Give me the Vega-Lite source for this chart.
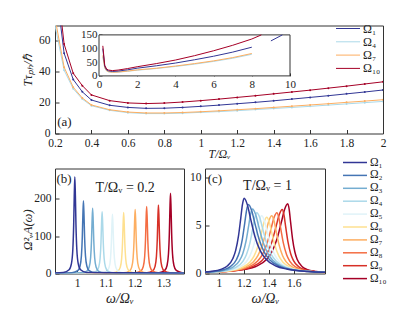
{
"$schema":"https://vega.github.io/schema/vega-lite/v6.json",
"padding":{"left":20,"top":21.5,"right":4,"bottom":4},
"config":{
 "font":"Liberation Serif",
 "view":{"stroke":"#333333","strokeWidth":1},
 "axis":{"grid":false,"domain":false,"tickColor":"#333333","tickSize":-4,"labelPadding":7,"labelFontSize":11.5,"labelColor":"#222222","labelFont":"Liberation Serif","titleFont":"Liberation Serif","titleFontWeight":"normal","titleFontStyle":"italic","titleColor":"#222222","titleFontSize":13,"labelFlush":false,"labelOverlap":false},
 "legend":{"labelFont":"Liberation Serif","labelColor":"#222222","labelFontSize":12,"symbolType":"M0,0H4.8","symbolSize":100,"labelOffset":21,"title":null},
 "text":{"font":"Liberation Serif","color":"#222222"}
},
"datasets":{
 "A":[
  {"T":0.2,"Ω₁":100,"Ω₄":70,"Ω₇":75,"Ω₁₀":110},
  {"T":0.25,"Ω₁":52,"Ω₄":41,"Ω₇":43,"Ω₁₀":58},
  {"T":0.3,"Ω₁":35,"Ω₄":29,"Ω₇":30,"Ω₁₀":39},
  {"T":0.35,"Ω₁":27,"Ω₄":22.3,"Ω₇":23,"Ω₁₀":31},
  {"T":0.4,"Ω₁":21.7,"Ω₄":18,"Ω₇":18.5,"Ω₁₀":25},
  {"T":0.5,"Ω₁":18.3,"Ω₄":15,"Ω₇":15.4,"Ω₁₀":21.3},
  {"T":0.6,"Ω₁":16.9,"Ω₄":13.5,"Ω₇":13.9,"Ω₁₀":19.8},
  {"T":0.7,"Ω₁":16.3,"Ω₄":12.9,"Ω₇":13.3,"Ω₁₀":19.4},
  {"T":0.8,"Ω₁":16.4,"Ω₄":12.9,"Ω₇":13.3,"Ω₁₀":19.7},
  {"T":0.9,"Ω₁":16.9,"Ω₄":13.2,"Ω₇":13.6,"Ω₁₀":20.4},
  {"T":1.0,"Ω₁":17.6,"Ω₄":13.7,"Ω₇":14.1,"Ω₁₀":21.3},
  {"T":1.1,"Ω₁":18.4,"Ω₄":14.2,"Ω₇":14.7,"Ω₁₀":22.3},
  {"T":1.2,"Ω₁":19.3,"Ω₄":14.8,"Ω₇":15.4,"Ω₁₀":23.4},
  {"T":1.3,"Ω₁":20.2,"Ω₄":15.5,"Ω₇":16.1,"Ω₁₀":24.5},
  {"T":1.4,"Ω₁":21.2,"Ω₄":16.2,"Ω₇":16.9,"Ω₁₀":25.7},
  {"T":1.5,"Ω₁":22.3,"Ω₄":16.9,"Ω₇":17.7,"Ω₁₀":26.9},
  {"T":1.6,"Ω₁":23.4,"Ω₄":17.6,"Ω₇":18.5,"Ω₁₀":28.1},
  {"T":1.7,"Ω₁":24.5,"Ω₄":18.4,"Ω₇":19.3,"Ω₁₀":29.4},
  {"T":1.8,"Ω₁":25.7,"Ω₄":19.2,"Ω₇":20.2,"Ω₁₀":30.7},
  {"T":1.9,"Ω₁":26.9,"Ω₄":20.0,"Ω₇":21.0,"Ω₁₀":32.1},
  {"T":2.0,"Ω₁":28.2,"Ω₄":20.8,"Ω₇":21.9,"Ω₁₀":33.5}
 ],
 "I":[
  {"T":0.2,"Ω₁":100,"Ω₄":70,"Ω₇":75,"Ω₁₀":110},
  {"T":0.3,"Ω₁":35,"Ω₄":29,"Ω₇":30,"Ω₁₀":39},
  {"T":0.4,"Ω₁":21.7,"Ω₄":18,"Ω₇":18.5,"Ω₁₀":25},
  {"T":0.5,"Ω₁":18.3,"Ω₄":15,"Ω₇":15.4,"Ω₁₀":21.3},
  {"T":0.7,"Ω₁":16.3,"Ω₄":12.9,"Ω₇":13.3,"Ω₁₀":19.4},
  {"T":1,"Ω₁":17.6,"Ω₄":13.7,"Ω₇":14.1,"Ω₁₀":21.3},
  {"T":1.5,"Ω₁":22.3,"Ω₄":16.9,"Ω₇":17.7,"Ω₁₀":26.9},
  {"T":2,"Ω₁":28.2,"Ω₄":20.8,"Ω₇":21.9,"Ω₁₀":33.5},
  {"T":3,"Ω₁":37,"Ω₄":27,"Ω₇":28,"Ω₁₀":45},
  {"T":4,"Ω₁":47,"Ω₄":34.5,"Ω₇":36,"Ω₁₀":58},
  {"T":5,"Ω₁":59,"Ω₄":43,"Ω₇":45,"Ω₁₀":74},
  {"T":6,"Ω₁":72,"Ω₄":53,"Ω₇":55,"Ω₁₀":92},
  {"T":7,"Ω₁":87,"Ω₄":64.5,"Ω₇":67,"Ω₁₀":112},
  {"T":8,"Ω₁":105,"Ω₄":79,"Ω₇":82,"Ω₁₀":135},
  {"T":8.5,"Ω₁₀":150},
  {"T":9,"Ω₁":128,"Ω₄":98,"Ω₇":102},
  {"T":9.6,"Ω₁":150},
  {"T":10,"Ω₄":123,"Ω₇":128}
 ],
 "B":[
  {"s":"Ω₁₀","w":0.9,"a":0.4},{"s":"Ω₁₀","w":1.285,"a":2.1},{"s":"Ω₁₀","w":1.305,"a":8.1},{"s":"Ω₁₀","w":1.313,"a":21.4},{"s":"Ω₁₀","w":1.318,"a":52.6},{"s":"Ω₁₀","w":1.321,"a":107},{"s":"Ω₁₀","w":1.323,"a":171},{"s":"Ω₁₀","w":1.325,"a":214},{"s":"Ω₁₀","w":1.327,"a":171},{"s":"Ω₁₀","w":1.329,"a":107},{"s":"Ω₁₀","w":1.332,"a":52.6},{"s":"Ω₁₀","w":1.337,"a":21.4},{"s":"Ω₁₀","w":1.345,"a":8.1},{"s":"Ω₁₀","w":1.365,"a":2.1},{"s":"Ω₁₀","w":1.4,"a":0.4},
  {"s":"Ω₉","w":0.9,"a":0.4},{"s":"Ω₉","w":1.243,"a":1.8},{"s":"Ω₉","w":1.263,"a":7.0},{"s":"Ω₉","w":1.271,"a":18.3},{"s":"Ω₉","w":1.276,"a":45.0},{"s":"Ω₉","w":1.279,"a":91.5},{"s":"Ω₉","w":1.281,"a":146},{"s":"Ω₉","w":1.283,"a":183},{"s":"Ω₉","w":1.285,"a":146},{"s":"Ω₉","w":1.287,"a":91.5},{"s":"Ω₉","w":1.29,"a":45.0},{"s":"Ω₉","w":1.295,"a":18.3},{"s":"Ω₉","w":1.303,"a":7.0},{"s":"Ω₉","w":1.323,"a":1.8},{"s":"Ω₉","w":1.4,"a":0.4},
  {"s":"Ω₈","w":0.9,"a":0.4},{"s":"Ω₈","w":1.202,"a":1.8},{"s":"Ω₈","w":1.222,"a":6.8},{"s":"Ω₈","w":1.23,"a":17.9},{"s":"Ω₈","w":1.235,"a":44.0},{"s":"Ω₈","w":1.238,"a":89.5},{"s":"Ω₈","w":1.24,"a":143},{"s":"Ω₈","w":1.242,"a":179},{"s":"Ω₈","w":1.244,"a":143},{"s":"Ω₈","w":1.246,"a":89.5},{"s":"Ω₈","w":1.249,"a":44.0},{"s":"Ω₈","w":1.254,"a":17.9},{"s":"Ω₈","w":1.262,"a":6.8},{"s":"Ω₈","w":1.282,"a":1.8},{"s":"Ω₈","w":1.4,"a":0.4},
  {"s":"Ω₇","w":0.9,"a":0.4},{"s":"Ω₇","w":1.162,"a":1.7},{"s":"Ω₇","w":1.182,"a":6.5},{"s":"Ω₇","w":1.19,"a":17.1},{"s":"Ω₇","w":1.195,"a":42.1},{"s":"Ω₇","w":1.198,"a":85.5},{"s":"Ω₇","w":1.2,"a":137},{"s":"Ω₇","w":1.202,"a":171},{"s":"Ω₇","w":1.204,"a":137},{"s":"Ω₇","w":1.206,"a":85.5},{"s":"Ω₇","w":1.209,"a":42.1},{"s":"Ω₇","w":1.214,"a":17.1},{"s":"Ω₇","w":1.222,"a":6.5},{"s":"Ω₇","w":1.242,"a":1.7},{"s":"Ω₇","w":1.4,"a":0.4},
  {"s":"Ω₆","w":0.9,"a":0.4},{"s":"Ω₆","w":1.122,"a":1.6},{"s":"Ω₆","w":1.142,"a":6.2},{"s":"Ω₆","w":1.15,"a":16.3},{"s":"Ω₆","w":1.155,"a":40.1},{"s":"Ω₆","w":1.158,"a":81.5},{"s":"Ω₆","w":1.16,"a":130},{"s":"Ω₆","w":1.162,"a":163},{"s":"Ω₆","w":1.164,"a":130},{"s":"Ω₆","w":1.166,"a":81.5},{"s":"Ω₆","w":1.169,"a":40.1},{"s":"Ω₆","w":1.174,"a":16.3},{"s":"Ω₆","w":1.182,"a":6.2},{"s":"Ω₆","w":1.202,"a":1.6},{"s":"Ω₆","w":1.4,"a":0.4},
  {"s":"Ω₅","w":0.9,"a":0.4},{"s":"Ω₅","w":1.083,"a":1.6},{"s":"Ω₅","w":1.103,"a":6.0},{"s":"Ω₅","w":1.111,"a":15.8},{"s":"Ω₅","w":1.116,"a":38.9},{"s":"Ω₅","w":1.119,"a":79},{"s":"Ω₅","w":1.121,"a":126},{"s":"Ω₅","w":1.123,"a":158},{"s":"Ω₅","w":1.125,"a":126},{"s":"Ω₅","w":1.127,"a":79},{"s":"Ω₅","w":1.13,"a":38.9},{"s":"Ω₅","w":1.135,"a":15.8},{"s":"Ω₅","w":1.143,"a":6.0},{"s":"Ω₅","w":1.163,"a":1.6},{"s":"Ω₅","w":1.4,"a":0.4},
  {"s":"Ω₄","w":0.9,"a":0.4},{"s":"Ω₄","w":1.047,"a":1.6},{"s":"Ω₄","w":1.067,"a":6.3},{"s":"Ω₄","w":1.075,"a":16.5},{"s":"Ω₄","w":1.08,"a":40.6},{"s":"Ω₄","w":1.083,"a":82.5},{"s":"Ω₄","w":1.085,"a":132},{"s":"Ω₄","w":1.087,"a":165},{"s":"Ω₄","w":1.089,"a":132},{"s":"Ω₄","w":1.091,"a":82.5},{"s":"Ω₄","w":1.094,"a":40.6},{"s":"Ω₄","w":1.099,"a":16.5},{"s":"Ω₄","w":1.107,"a":6.3},{"s":"Ω₄","w":1.127,"a":1.6},{"s":"Ω₄","w":1.4,"a":0.4},
  {"s":"Ω₃","w":0.9,"a":0.4},{"s":"Ω₃","w":1.014,"a":1.7},{"s":"Ω₃","w":1.034,"a":6.6},{"s":"Ω₃","w":1.042,"a":17.4},{"s":"Ω₃","w":1.047,"a":42.8},{"s":"Ω₃","w":1.05,"a":87},{"s":"Ω₃","w":1.052,"a":139},{"s":"Ω₃","w":1.054,"a":174},{"s":"Ω₃","w":1.056,"a":139},{"s":"Ω₃","w":1.058,"a":87},{"s":"Ω₃","w":1.061,"a":42.8},{"s":"Ω₃","w":1.066,"a":17.4},{"s":"Ω₃","w":1.074,"a":6.6},{"s":"Ω₃","w":1.094,"a":1.7},{"s":"Ω₃","w":1.4,"a":0.4},
  {"s":"Ω₂","w":0.9,"a":0.4},{"s":"Ω₂","w":0.982,"a":1.9},{"s":"Ω₂","w":1.002,"a":7.4},{"s":"Ω₂","w":1.01,"a":19.4},{"s":"Ω₂","w":1.015,"a":47.7},{"s":"Ω₂","w":1.018,"a":97},{"s":"Ω₂","w":1.02,"a":155},{"s":"Ω₂","w":1.022,"a":194},{"s":"Ω₂","w":1.024,"a":155},{"s":"Ω₂","w":1.026,"a":97},{"s":"Ω₂","w":1.029,"a":47.7},{"s":"Ω₂","w":1.034,"a":19.4},{"s":"Ω₂","w":1.042,"a":7.4},{"s":"Ω₂","w":1.062,"a":1.9},{"s":"Ω₂","w":1.4,"a":0.4},
  {"s":"Ω₁","w":0.9,"a":0.4},{"s":"Ω₁","w":0.952,"a":2.6},{"s":"Ω₁","w":0.972,"a":9.8},{"s":"Ω₁","w":0.98,"a":25.8},{"s":"Ω₁","w":0.985,"a":63.5},{"s":"Ω₁","w":0.988,"a":129},{"s":"Ω₁","w":0.99,"a":206},{"s":"Ω₁","w":0.992,"a":258},{"s":"Ω₁","w":0.994,"a":206},{"s":"Ω₁","w":0.996,"a":129},{"s":"Ω₁","w":0.999,"a":63.5},{"s":"Ω₁","w":1.004,"a":25.8},{"s":"Ω₁","w":1.012,"a":9.8},{"s":"Ω₁","w":1.032,"a":2.6},{"s":"Ω₁","w":1.4,"a":0.4}
 ],
 "C":[
  {"s":"Ω₁₀","w":0.89,"a":0.12},{"s":"Ω₁₀","w":1.042,"a":0.2},{"s":"Ω₁₀","w":1.212,"a":0.43},{"s":"Ω₁₀","w":1.297,"a":0.73},{"s":"Ω₁₀","w":1.382,"a":1.45},{"s":"Ω₁₀","w":1.4245,"a":2.23},{"s":"Ω₁₀","w":1.467,"a":3.63},{"s":"Ω₁₀","w":1.501,"a":5.33},{"s":"Ω₁₀","w":1.5265,"a":6.65},{"s":"Ω₁₀","w":1.552,"a":7.25},{"s":"Ω₁₀","w":1.5634,"a":6.65},{"s":"Ω₁₀","w":1.5748,"a":5.33},{"s":"Ω₁₀","w":1.59,"a":3.63},{"s":"Ω₁₀","w":1.609,"a":2.23},{"s":"Ω₁₀","w":1.628,"a":1.45},{"s":"Ω₁₀","w":1.666,"a":0.73},{"s":"Ω₁₀","w":1.704,"a":0.43},{"s":"Ω₁₀","w":1.78,"a":0.2},{"s":"Ω₁₀","w":1.85,"a":0.12},
  {"s":"Ω₉","w":0.89,"a":0.12},{"s":"Ω₉","w":1.016,"a":0.18},{"s":"Ω₉","w":1.18,"a":0.39},{"s":"Ω₉","w":1.262,"a":0.67},{"s":"Ω₉","w":1.344,"a":1.33},{"s":"Ω₉","w":1.385,"a":2.05},{"s":"Ω₉","w":1.426,"a":3.33},{"s":"Ω₉","w":1.4588,"a":4.89},{"s":"Ω₉","w":1.4834,"a":6.1},{"s":"Ω₉","w":1.508,"a":6.65},{"s":"Ω₉","w":1.5215,"a":6.1},{"s":"Ω₉","w":1.535,"a":4.89},{"s":"Ω₉","w":1.553,"a":3.33},{"s":"Ω₉","w":1.5755,"a":2.05},{"s":"Ω₉","w":1.598,"a":1.33},{"s":"Ω₉","w":1.643,"a":0.67},{"s":"Ω₉","w":1.688,"a":0.39},{"s":"Ω₉","w":1.778,"a":0.18},{"s":"Ω₉","w":1.85,"a":0.11},
  {"s":"Ω₈","w":0.89,"a":0.11},{"s":"Ω₈","w":0.997,"a":0.17},{"s":"Ω₈","w":1.153,"a":0.37},{"s":"Ω₈","w":1.231,"a":0.63},{"s":"Ω₈","w":1.309,"a":1.26},{"s":"Ω₈","w":1.348,"a":1.94},{"s":"Ω₈","w":1.387,"a":3.15},{"s":"Ω₈","w":1.4182,"a":4.63},{"s":"Ω₈","w":1.4416,"a":5.78},{"s":"Ω₈","w":1.465,"a":6.3},{"s":"Ω₈","w":1.4806,"a":5.78},{"s":"Ω₈","w":1.4962,"a":4.63},{"s":"Ω₈","w":1.517,"a":3.15},{"s":"Ω₈","w":1.543,"a":1.94},{"s":"Ω₈","w":1.569,"a":1.26},{"s":"Ω₈","w":1.621,"a":0.63},{"s":"Ω₈","w":1.673,"a":0.37},{"s":"Ω₈","w":1.777,"a":0.17},{"s":"Ω₈","w":1.85,"a":0.11},
  {"s":"Ω₇","w":0.89,"a":0.11},{"s":"Ω₇","w":0.98,"a":0.16},{"s":"Ω₇","w":1.128,"a":0.35},{"s":"Ω₇","w":1.202,"a":0.6},{"s":"Ω₇","w":1.276,"a":1.2},{"s":"Ω₇","w":1.313,"a":1.85},{"s":"Ω₇","w":1.35,"a":3.0},{"s":"Ω₇","w":1.3796,"a":4.41},{"s":"Ω₇","w":1.4018,"a":5.5},{"s":"Ω₇","w":1.424,"a":6.0},{"s":"Ω₇","w":1.4414,"a":5.5},{"s":"Ω₇","w":1.4588,"a":4.41},{"s":"Ω₇","w":1.482,"a":3.0},{"s":"Ω₇","w":1.511,"a":1.85},{"s":"Ω₇","w":1.54,"a":1.2},{"s":"Ω₇","w":1.598,"a":0.6},{"s":"Ω₇","w":1.656,"a":0.35},{"s":"Ω₇","w":1.772,"a":0.16},{"s":"Ω₇","w":1.85,"a":0.11},
  {"s":"Ω₆","w":0.89,"a":0.11},{"s":"Ω₆","w":0.976,"a":0.16},{"s":"Ω₆","w":1.112,"a":0.34},{"s":"Ω₆","w":1.18,"a":0.59},{"s":"Ω₆","w":1.248,"a":1.17},{"s":"Ω₆","w":1.282,"a":1.8},{"s":"Ω₆","w":1.316,"a":2.93},{"s":"Ω₆","w":1.3432,"a":4.3},{"s":"Ω₆","w":1.3636,"a":5.36},{"s":"Ω₆","w":1.384,"a":5.85},{"s":"Ω₆","w":1.4035,"a":5.36},{"s":"Ω₆","w":1.423,"a":4.3},{"s":"Ω₆","w":1.449,"a":2.93},{"s":"Ω₆","w":1.4815,"a":1.8},{"s":"Ω₆","w":1.514,"a":1.17},{"s":"Ω₆","w":1.579,"a":0.59},{"s":"Ω₆","w":1.644,"a":0.34},{"s":"Ω₆","w":1.774,"a":0.16},{"s":"Ω₆","w":1.85,"a":0.11},
  {"s":"Ω₅","w":0.89,"a":0.11},{"s":"Ω₅","w":0.971,"a":0.16},{"s":"Ω₅","w":1.095,"a":0.35},{"s":"Ω₅","w":1.157,"a":0.6},{"s":"Ω₅","w":1.219,"a":1.2},{"s":"Ω₅","w":1.25,"a":1.85},{"s":"Ω₅","w":1.281,"a":3.0},{"s":"Ω₅","w":1.3058,"a":4.41},{"s":"Ω₅","w":1.3244,"a":5.5},{"s":"Ω₅","w":1.343,"a":6.0},{"s":"Ω₅","w":1.3646,"a":5.5},{"s":"Ω₅","w":1.3862,"a":4.41},{"s":"Ω₅","w":1.415,"a":3.0},{"s":"Ω₅","w":1.451,"a":1.85},{"s":"Ω₅","w":1.487,"a":1.2},{"s":"Ω₅","w":1.559,"a":0.6},{"s":"Ω₅","w":1.631,"a":0.35},{"s":"Ω₅","w":1.775,"a":0.16},{"s":"Ω₅","w":1.85,"a":0.12},
  {"s":"Ω₄","w":0.89,"a":0.11},{"s":"Ω₄","w":0.969,"a":0.17},{"s":"Ω₄","w":1.081,"a":0.37},{"s":"Ω₄","w":1.137,"a":0.63},{"s":"Ω₄","w":1.193,"a":1.26},{"s":"Ω₄","w":1.221,"a":1.94},{"s":"Ω₄","w":1.249,"a":3.15},{"s":"Ω₄","w":1.2714,"a":4.63},{"s":"Ω₄","w":1.2882,"a":5.78},{"s":"Ω₄","w":1.305,"a":6.3},{"s":"Ω₄","w":1.3284,"a":5.78},{"s":"Ω₄","w":1.3518,"a":4.63},{"s":"Ω₄","w":1.383,"a":3.15},{"s":"Ω₄","w":1.422,"a":1.94},{"s":"Ω₄","w":1.461,"a":1.26},{"s":"Ω₄","w":1.539,"a":0.63},{"s":"Ω₄","w":1.617,"a":0.37},{"s":"Ω₄","w":1.773,"a":0.17},{"s":"Ω₄","w":1.85,"a":0.13},
  {"s":"Ω₃","w":0.89,"a":0.12},{"s":"Ω₃","w":0.958,"a":0.18},{"s":"Ω₃","w":1.062,"a":0.39},{"s":"Ω₃","w":1.114,"a":0.67},{"s":"Ω₃","w":1.166,"a":1.34},{"s":"Ω₃","w":1.192,"a":2.06},{"s":"Ω₃","w":1.218,"a":3.35},{"s":"Ω₃","w":1.2388,"a":4.92},{"s":"Ω₃","w":1.2544,"a":6.14},{"s":"Ω₃","w":1.27,"a":6.7},{"s":"Ω₃","w":1.2946,"a":6.14},{"s":"Ω₃","w":1.3192,"a":4.92},{"s":"Ω₃","w":1.352,"a":3.35},{"s":"Ω₃","w":1.393,"a":2.06},{"s":"Ω₃","w":1.434,"a":1.34},{"s":"Ω₃","w":1.516,"a":0.67},{"s":"Ω₃","w":1.598,"a":0.39},{"s":"Ω₃","w":1.762,"a":0.18},{"s":"Ω₃","w":1.85,"a":0.13},
  {"s":"Ω₂","w":0.89,"a":0.13},{"s":"Ω₂","w":0.949,"a":0.19},{"s":"Ω₂","w":1.045,"a":0.42},{"s":"Ω₂","w":1.093,"a":0.72},{"s":"Ω₂","w":1.141,"a":1.43},{"s":"Ω₂","w":1.165,"a":2.2},{"s":"Ω₂","w":1.189,"a":3.58},{"s":"Ω₂","w":1.2082,"a":5.26},{"s":"Ω₂","w":1.2226,"a":6.56},{"s":"Ω₂","w":1.237,"a":7.15},{"s":"Ω₂","w":1.2625,"a":6.56},{"s":"Ω₂","w":1.288,"a":5.26},{"s":"Ω₂","w":1.322,"a":3.58},{"s":"Ω₂","w":1.3645,"a":2.2},{"s":"Ω₂","w":1.407,"a":1.43},{"s":"Ω₂","w":1.492,"a":0.72},{"s":"Ω₂","w":1.577,"a":0.42},{"s":"Ω₂","w":1.747,"a":0.19},{"s":"Ω₂","w":1.85,"a":0.14},
  {"s":"Ω₁","w":0.89,"a":0.16},{"s":"Ω₁","w":0.933,"a":0.21},{"s":"Ω₁","w":1.023,"a":0.46},{"s":"Ω₁","w":1.068,"a":0.78},{"s":"Ω₁","w":1.113,"a":1.56},{"s":"Ω₁","w":1.1355,"a":2.4},{"s":"Ω₁","w":1.158,"a":3.9},{"s":"Ω₁","w":1.176,"a":5.73},{"s":"Ω₁","w":1.1895,"a":7.15},{"s":"Ω₁","w":1.203,"a":7.8},{"s":"Ω₁","w":1.2285,"a":7.15},{"s":"Ω₁","w":1.254,"a":5.73},{"s":"Ω₁","w":1.288,"a":3.9},{"s":"Ω₁","w":1.3305,"a":2.4},{"s":"Ω₁","w":1.373,"a":1.56},{"s":"Ω₁","w":1.458,"a":0.78},{"s":"Ω₁","w":1.543,"a":0.46},{"s":"Ω₁","w":1.713,"a":0.21},{"s":"Ω₁","w":1.85,"a":0.13}
 ]
},
"vconcat":[
 {
  "width":328,"height":108,
  "layer":[
   {"layer":[
    {"data":{"name":"A"},"transform":[{"fold":["Ω₄","Ω₇","Ω₁","Ω₁₀"],"as":["s","v"]}],
     "mark":{"type":"line","strokeWidth":1,"clip":true},
     "encoding":{
      "x":{"field":"T","type":"quantitative","scale":{"domain":[0.2,2],"nice":false,"zero":false},"axis":{"title":"T/Ωᵥ","values":[0.2,0.4,0.6,0.8,1,1.2,1.4,1.6,1.8,2],"tickCount":50,"format":"~g","titleFontSize":12,"titleY":20,"titleBaseline":"middle","labelPadding":8}},
      "y":{"field":"v","type":"quantitative","scale":{"domain":[0,70],"nice":false},"axis":{"title":"Tτₚₕ/ℏ","values":[0,20,40,60],"tickCount":50,"format":"~g","labelPadding":9,"titleX":-24,"titleY":44,"titleBaseline":"alphabetic","titleAlign":"center","titleFontSize":12.5}},
      "color":{"field":"s","type":"nominal","scale":{"domain":["Ω₁","Ω₄","Ω₇","Ω₁₀"],"range":["#313695","#abd9e9","#fdae61","#a50026"]},"legend":{"orient":"none","legendX":275,"legendY":-3,"symbolStrokeWidth":1,"rowPadding":1.3}}
     }},
    {"data":{"name":"A"},"transform":[{"fold":["Ω₄","Ω₇","Ω₁","Ω₁₀"],"as":["s","v"]}],
     "mark":{"type":"point","filled":true,"size":4,"opacity":1,"clip":true},
     "encoding":{
      "x":{"field":"T","type":"quantitative"},
      "y":{"field":"v","type":"quantitative"},
      "color":{"field":"s","type":"nominal","legend":null}
     }},
    {"data":{"values":[{"T":0.212,"v":7.7,"lab":"(a)"}]},
     "mark":{"type":"text","align":"left","baseline":"middle","fontSize":13},
     "encoding":{"x":{"field":"T","type":"quantitative"},"y":{"field":"v","type":"quantitative"},"text":{"field":"lab"}}}
   ]},
   {"layer":[
    {"data":{"values":[{"T":0,"T2":10,"v":0,"v2":150}]},
     "mark":{"type":"rect","fill":"white","stroke":"#333333","strokeWidth":1},
     "encoding":{
      "x":{"field":"T","type":"quantitative","scale":{"domain":[0,10],"range":[44,235],"nice":false,"zero":false},"axis":{"title":null,"orient":"bottom","offset":-57.6,"values":[0,2,4,6,8,10],"tickCount":50,"format":"~g","labelFontSize":11,"tickSize":-3,"labelPadding":6}},
      "x2":{"field":"T2"},
      "y":{"field":"v","type":"quantitative","scale":{"domain":[0,150],"range":[50.4,9.4],"nice":false},"axis":{"title":null,"orient":"left","offset":-44,"values":[0,50,100,150],"tickCount":50,"format":"~g","labelFontSize":11,"tickSize":-3,"labelPadding":5}},
      "y2":{"field":"v2"}
     }},
    {"data":{"name":"I"},"transform":[{"fold":["Ω₄","Ω₇","Ω₁","Ω₁₀"],"as":["s","v"]}],
     "mark":{"type":"line","strokeWidth":1},
     "encoding":{
      "x":{"field":"T","type":"quantitative"},
      "y":{"field":"v","type":"quantitative"},
      "color":{"field":"s","type":"nominal","legend":null}
     }}
   ]}
  ],
  "resolve":{"scale":{"x":"independent","y":"independent"}}
 },
 {
  "hconcat":[
   {
    "width":129,"height":105,
    "layer":[
     {"data":{"name":"B"},
      "mark":{"type":"line","strokeWidth":1.5,"clip":true,"interpolate":"monotone"},
      "encoding":{
       "x":{"field":"w","type":"quantitative","scale":{"domain":[0.923,1.372],"nice":false,"zero":false},"axis":{"title":"ω/Ωᵥ","values":[1,1.1,1.2,1.3],"tickCount":50,"format":"~g","titleFontSize":14,"titleY":25,"titleBaseline":"middle","labelPadding":8}},
       "y":{"field":"a","type":"quantitative","scale":{"domain":[0,280],"nice":false},"axis":{"title":"Ω²ᵥA(ω)","values":[0,100,200],"tickCount":50,"format":"~g","labelPadding":8,"titleX":-24,"titleY":61,"titleBaseline":"alphabetic","titleAlign":"center","titleFontSize":12.5}},
       "color":{"field":"s","type":"nominal","scale":{"domain":["Ω₁","Ω₂","Ω₃","Ω₄","Ω₅","Ω₆","Ω₇","Ω₈","Ω₉","Ω₁₀"],"range":["#313695","#4575b4","#74add1","#abd9e9","#e0f3f8","#fee090","#fdae61","#f46d43","#d73027","#a50026"]},"legend":null}
      }},
     {"data":{"values":[{"w":0.928,"a":251,"lab":"(b)"}]},
      "mark":{"type":"text","align":"left","baseline":"middle","fontSize":13},
      "encoding":{"x":{"field":"w","type":"quantitative"},"y":{"field":"a","type":"quantitative"},"text":{"field":"lab"}}},
     {"data":{"values":[{"w":1.167,"a":229,"lab":"T/Ωᵥ = 0.2"}]},
      "mark":{"type":"text","align":"center","baseline":"middle","fontSize":14},
      "encoding":{"x":{"field":"w","type":"quantitative"},"y":{"field":"a","type":"quantitative"},"text":{"field":"lab"}}}
    ]
   },
   {
    "width":120,"height":105,
    "layer":[
     {"data":{"name":"C"},
      "mark":{"type":"line","strokeWidth":1.5,"clip":true,"interpolate":"monotone"},
      "encoding":{
       "x":{"field":"w","type":"quantitative","scale":{"domain":[0.89,1.85],"nice":false,"zero":false},"axis":{"title":"ω/Ωᵥ","values":[1,1.2,1.4,1.6],"tickCount":50,"format":"~g","titleFontSize":14,"titleY":25,"titleBaseline":"middle","labelPadding":8}},
       "y":{"field":"a","type":"quantitative","scale":{"domain":[0,10.9],"nice":false},"axis":{"title":null,"values":[0,5,10],"tickCount":50,"format":"~g","labelPadding":8}},
       "color":{"field":"s","type":"nominal","scale":{"domain":["Ω₁","Ω₂","Ω₃","Ω₄","Ω₅","Ω₆","Ω₇","Ω₈","Ω₉","Ω₁₀"],"range":["#313695","#4575b4","#74add1","#abd9e9","#e0f3f8","#fee090","#fdae61","#f46d43","#d73027","#a50026"]},"legend":{"orient":"none","legendX":132,"legendY":-12,"symbolStrokeWidth":1.5,"rowPadding":0.9,"labelFontSize":11.5}}
      }},
     {"data":{"values":[{"w":0.912,"a":9.85,"lab":"(c)"}]},
      "mark":{"type":"text","align":"left","baseline":"middle","fontSize":13},
      "encoding":{"x":{"field":"w","type":"quantitative"},"y":{"field":"a","type":"quantitative"},"text":{"field":"lab"}}},
     {"data":{"values":[{"w":1.39,"a":9.06,"lab":"T/Ωᵥ = 1"}]},
      "mark":{"type":"text","align":"center","baseline":"middle","fontSize":14},
      "encoding":{"x":{"field":"w","type":"quantitative"},"y":{"field":"a","type":"quantitative"},"text":{"field":"lab"}}}
    ]
   }
  ],
  "spacing":21,
  "bounds":"flush",
  "resolve":{"scale":{"color":"independent"}}
 }
],
"spacing":35,
"bounds":"flush",
"resolve":{"scale":{"color":"independent"}}
}
